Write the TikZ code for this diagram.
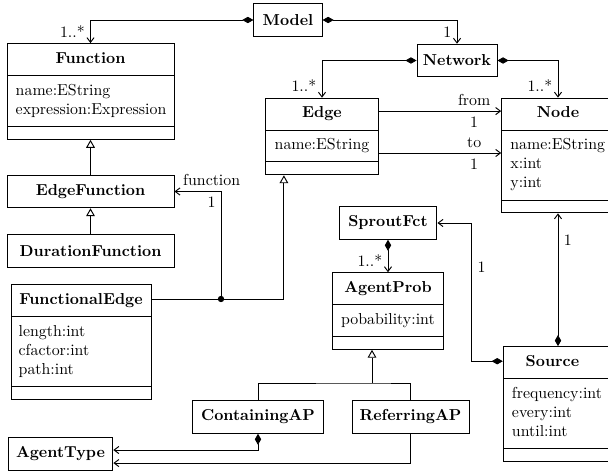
\documentclass[tikz,border=0pt]{standalone}
\usepackage{tikz}
\usetikzlibrary{shapes.multipart, arrows.meta}

\begin{document}
\begin{tikzpicture}[x=0.63pt, y=-0.63pt, semithick]
        % Define block styles
        \tikzstyle{umlclass} = [rectangle split, rectangle split parts=3, draw, align=left, inner xsep=5.5pt, inner ysep=3.75pt, rectangle split empty part height=2pt]
        \tikzstyle{box} = [rectangle, draw, font=\bfseries, minimum height=20.5pt]
        \tikzstyle{comp} = [{Diamond[length=7pt, width=4pt]}-{Straight Barb[length=3pt, width=4.5pt]}]
        \tikzstyle{assoc} = [-{Straight Barb[length=3pt, width=4.5pt]}]
        \tikzstyle{inherit} = [-{Triangle[open, length=5pt, width=5.5pt]}]

        \useasboundingbox (0,0) rectangle (608,471);
        \clip (0,0) rectangle (608,471);

        % Place nodes
        \node [box, minimum width=43pt] (model) at (288,20) {Model};
        \node [box, minimum width=50.4pt] (network) at (457,60.5) {Network};
        \node [umlclass, text width=94.2pt] (function) at (90.5,91.5) {\strut\hfill\textbf{Function}\hfill\null \nodepart{second} \strut name:EString\\expression:Expression\strut \nodepart{third}};
        \node [box, minimum width=105.2pt, below of=function, node distance=63pt] (edgefunction) {EdgeFunction};
        \node [box, minimum width=105.2pt, below of=edgefunction, node distance=37.5pt] (durationfunction) {DurationFunction};
        \node [umlclass, text width=78.5pt, inner xsep=4.85pt] (functionaledge) at (81,342) {\strut\hfill\textbf{FunctionalEdge}\hfill\null \nodepart{second} \strut length:int\\cfactor:int\\path:int\strut \nodepart{third}};
        \node [umlclass, text width=59.6pt] (edge) at (322,136.5) {\strut\hfill\textbf{Edge}\hfill\null \nodepart{second} \strut name:EString \nodepart{third}};
        \node [umlclass, text width=60pt] (netnode) at (558,155.5) {\strut\hfill\textbf{Node}\hfill\null \nodepart{second} \strut name:EString\\x:int\\y:int\strut \nodepart{third}};
        \node [box, minimum width=61.7pt] (sproutfct) at (388,223) {SproutFct};
        \node [umlclass, text width=59pt] (agentprob) at (388,311) {\strut\hfill\textbf{AgentProb}\hfill\null \nodepart{second} \strut pobability:int \nodepart{third}};
        \node [umlclass, text width=58pt] (source) at (558,404) {\strut\hfill\textbf{Source}\hfill\hspace{7pt}\null \nodepart{second} \strut frequency:int\\every:int\\until:int\strut \nodepart{third}};
        \node [box, minimum width=82pt] (containingap) at (258,417) {ContainingAP};
        \node [box, minimum width=73.7pt] (referringap) at (410.5,417) {ReferringAP};
        \node [box, minimum width=66pt] (agenttype) at (60.5,454) {AgentType};

        % Draw connections as arrows
        \draw [comp] (model.west) -| node [pos=1, above left] {1..*} (function.north);
        \draw [comp] (model.east) -| node [pos=1, above left] {1} (network.north);
        \draw [comp] (network.west) -| node [pos=1, above left] {1..*} (edge.north);
        \draw [comp] (network.east) -| node [pos=1, above left] {1..*} (netnode.north);

        \coordinate (fromlink) at ([yshift=16pt]edge.east);
        \coordinate (tolink) at ([yshift=-10.4pt]edge.east);
        \draw [assoc] (fromlink) -- node [above, pos=0.78] {from} node [below, pos=0.78] {1} (fromlink -| netnode.west);
        \draw [assoc] (tolink) -- node [above, pos=0.78] {to} node [below, pos=0.78] {1} (tolink -| netnode.west);

        \draw [inherit] (edgefunction.north) -- (function.south);
        \draw [inherit] (durationfunction.north) -- (edgefunction.south);

        \coordinate (junction) at (221,299);
        \draw (junction -| functionaledge.east) -- (junction);
        \draw [assoc] (junction) |- node [above, pos=0.6] {function} node [below, pos=0.6] {1} (edgefunction.east);
        \draw [inherit] (junction) -| ([xshift=-24pt]edge.south);
        \fill (junction) circle (2pt);

        \draw [comp] (sproutfct.south) -- node [pos=1, above left] {1..*} (agentprob.north);
        \draw [comp] (source.north) -- node [pos=0.8, right] {1} (netnode.south);
        \coordinate (sourcelink) at ([yshift=-9.5pt]source.north west);
        \draw [comp] (sourcelink) -- ++(-31,0) |- node [pos=0.34, right] {1} (sproutfct.east);

        \coordinate (split) at (372,383);
        \draw (containingap.north) |- (split) -| (referringap.north);
        \draw [inherit] (split) -- (split |- agentprob.south);
        \draw [comp] (containingap.south) |- ([yshift=2.5pt]agenttype.east);
        \draw [assoc] (referringap.south) |- ([yshift=-5.7pt]agenttype.east);
    \end{tikzpicture}
\end{document}
